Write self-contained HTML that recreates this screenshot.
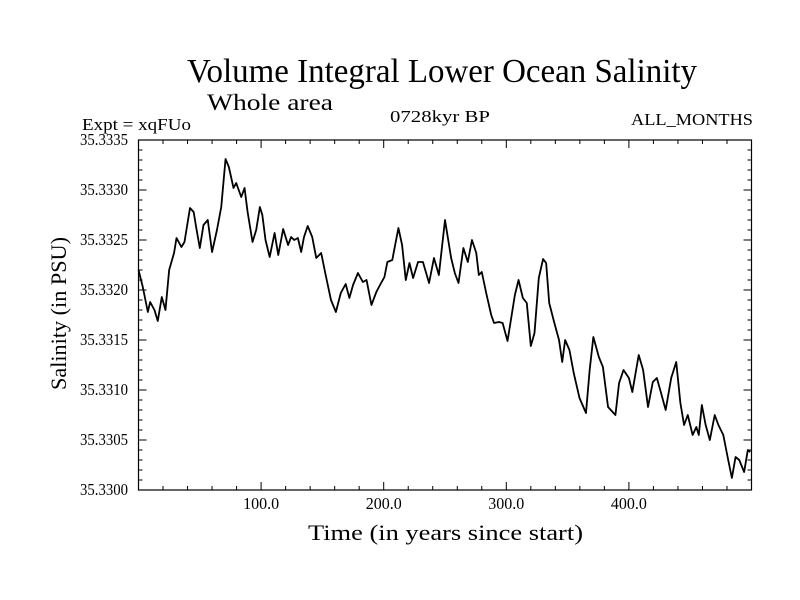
<!DOCTYPE html>
<html><head><meta charset="utf-8"><style>
html,body{margin:0;padding:0;background:#fff;}
svg{display:block;font-family:"Liberation Serif",serif;}
</style></head><body>
<svg id="chart" width="800" height="600" viewBox="0 0 800 600" xmlns="http://www.w3.org/2000/svg">
<rect width="800" height="600" fill="#fff"/>
<text x="187" y="82" font-size="34" textLength="510" lengthAdjust="spacingAndGlyphs">Volume Integral Lower Ocean Salinity</text>
<text x="207" y="110" font-size="23" textLength="126" lengthAdjust="spacingAndGlyphs">Whole area</text>
<text x="82" y="130" font-size="17" textLength="109" lengthAdjust="spacingAndGlyphs">Expt = xqFUo</text>
<text x="390" y="122" font-size="17" textLength="100" lengthAdjust="spacingAndGlyphs">0728kyr BP</text>
<text x="631" y="125" font-size="17" textLength="122" lengthAdjust="spacingAndGlyphs">ALL_MONTHS</text>
<text x="308" y="540" font-size="22" textLength="275" lengthAdjust="spacingAndGlyphs">Time (in years since start)</text>
<text transform="translate(66,390) rotate(-90)" font-size="22" textLength="153" lengthAdjust="spacingAndGlyphs">Salinity (in PSU)</text>
<g id="axes"></g>
<g id="series"></g>
</svg>
<script>
const years = [0,3.5,7.6,9.5,13,15.7,19,22,25,29,31,35,37.5,42,45,47,50,53,56.5,60,64,67.5,71,73.7,77.5,79.7,83.8,86.5,89,93,96,99,101,103.6,107,111,114,118,122,124.5,127,130,132.7,135,138,141.7,145,149,153,157,161,165,169,172,175,179,183,186,190,194,197,200.6,203,207,212,215,218,221,224,228,232,237,241,245,250,255,258,261,265,268.6,272,275.5,277.6,280,283.6,287.7,290,294,297,301,307,310,313.5,316.7,320,323,326.5,330,332.5,335,339,343,345.6,348,351.5,355,359.7,365,368,371,375.5,378.8,383,389,392,395.6,400,402.8,408,411.6,415.6,419.5,422.8,426,430,434.5,438.6,442,445,448,452,455,457,459.5,462.6,466,470,473,477,481,484,487,490,494,497,499];
const salinity = [35.33220,35.33203,35.33178,35.33188,35.33180,35.33169,35.33193,35.33180,35.33220,35.33237,35.33252,35.33243,35.33248,35.33282,35.33278,35.33263,35.33242,35.33265,35.33270,35.33238,35.33260,35.33283,35.33331,35.33323,35.33302,35.33307,35.33293,35.33302,35.33278,35.33248,35.33260,35.33283,35.33275,35.33250,35.33233,35.33257,35.33235,35.33261,35.33245,35.33253,35.33250,35.33252,35.33238,35.33253,35.33264,35.33253,35.33232,35.33237,35.33213,35.33190,35.33178,35.33197,35.33206,35.33192,35.33205,35.33217,35.33208,35.33210,35.33185,35.33198,35.33205,35.33213,35.33228,35.33230,35.33262,35.33245,35.33210,35.33227,35.33212,35.33228,35.33228,35.33207,35.33232,35.33215,35.33270,35.33232,35.33217,35.33207,35.33242,35.33228,35.33250,35.33237,35.33215,35.33218,35.33197,35.33175,35.33167,35.33168,35.33167,35.33149,35.33195,35.33210,35.33192,35.33187,35.33144,35.33157,35.33212,35.33231,35.33227,35.33187,35.33168,35.33150,35.33128,35.33150,35.33140,35.33117,35.33092,35.33077,35.33120,35.33153,35.33133,35.33123,35.33083,35.33075,35.33107,35.33120,35.33112,35.33098,35.33135,35.33120,35.33083,35.33108,35.33112,35.33098,35.33080,35.33112,35.33128,35.33087,35.33065,35.33075,35.33055,35.33063,35.33055,35.33085,35.33065,35.33050,35.33075,35.33065,35.33055,35.33030,35.33012,35.33033,35.33030,35.33018,35.33040,35.33038];
const yTickValues = [35.3300,35.3305,35.3310,35.3315,35.3320,35.3325,35.3330,35.3335];
const yTickLabels = ["35.3300","35.3305","35.3310","35.3315","35.3320","35.3325","35.3330","35.3335"];
const xTickValues = [100,200,300,400];
const xTickLabels = ["100.0","200.0","300.0","400.0"];

const L=138.5,R=751.5,T=140,B=490;
const xMin=0,xMax=500,yMin=35.3300,yMax=35.3335;
const xs=v=>L+(v-xMin)/(xMax-xMin)*(R-L);
const ys=v=>B-(v-yMin)/(yMax-yMin)*(B-T);
const NS='http://www.w3.org/2000/svg';
const axes=document.getElementById('axes');
const series=document.getElementById('series');
function mk(tag,attrs,parent){const e=document.createElementNS(NS,tag);for(const k in attrs)e.setAttribute(k,attrs[k]);parent.appendChild(e);return e;}

const frame=mk('rect',{x:L,y:T,width:R-L,height:B-T,fill:'none',stroke:'#000','stroke-width':1.2},axes);



let tp='';
for(let i=0;i<=35;i++){const v=yMin+i*0.0001;const y=ys(v);const len=(i%5===0)?8:4;
 tp+=`M${L},${y}h${len}M${R},${y}h${-len}`;}
for(let i=0;i<=25;i++){const v=i*20;const x=xs(v);const len=(i%5===0)?8:4;
 tp+=`M${x},${B}v${-len}M${x},${T}v${len}`;}
const ticks=mk('path',{d:tp,stroke:'#000','stroke-width':1,fill:'none'},axes);



yTickValues.forEach((v,i)=>{
 const t=mk('text',{x:80,y:ys(v)+5,'font-size':17,textLength:48,lengthAdjust:'spacingAndGlyphs'},axes);
 
 
 t.textContent=yTickLabels[i];
});
xTickValues.forEach((v,i)=>{
 const t=mk('text',{x:xs(v)-18,y:509,'font-size':17,textLength:36,lengthAdjust:'spacingAndGlyphs'},axes);
 
 
 t.textContent=xTickLabels[i];
});

const d=years.map((t,i)=>(i?'L':'M')+xs(t).toFixed(2)+','+ys(salinity[i]).toFixed(2)).join('');
const line=mk('path',{d:d,fill:'none',stroke:'#000','stroke-width':1.8,'stroke-linejoin':'round'},series);


</script>
</body></html>
